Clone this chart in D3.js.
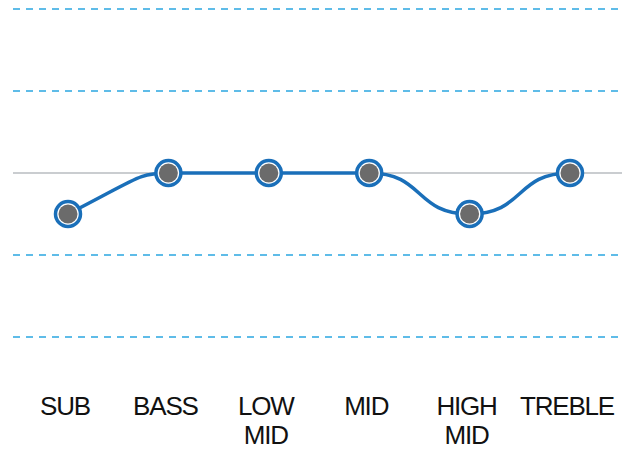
<!DOCTYPE html>
<html>
<head>
<meta charset="utf-8">
<script src="https://cdn.jsdelivr.net/npm/d3@7"></script>
<style>
	body { margin: 0; background: #fff; }
	svg { display: block; }
</style>
</head>
<body>
<svg id="svg"></svg>
<script>
	"use strict";

	var bands  = ["SUB", "BASS", "LOW MID", "MID", "HIGH MID", "TREBLE"],
		gains  = [-0.5, 0, 0, 0, -0.5, 0],
		grid   = [2, 1, -1, -2];

	var width  = 630,
		height = 450,
		blue   = "#1a6fb9";

	var svg = d3.select("#svg")
				.attr("width", width)
				.attr("height", height);

	var x = d3.scalePoint()
				.domain(bands)
				.range([68, 570]);

	var y = d3.scaleLinear()
				.domain([-2, 2])
				.range([337, 9]);

	// eq-style curve: flat shoulders at each band, straight run out of the first one
	var eqCurve = function(context){
		var pts = [];
		return {
			lineStart: function(){ pts = []; },
			lineEnd: function(){
				var n = pts.length, i, p0, p1, dx, s0, k0, k1;
				if (!n) return;
				context.moveTo(pts[0][0], pts[0][1]);
				for (i = 0; i < n - 1; i++){
					p0 = pts[i]; p1 = pts[i + 1];
					dx = p1[0] - p0[0];
					s0 = i === 0 ? 1.25 * (p1[1] - p0[1]) / dx : 0;
					k0 = i === 0 ? 0.7 : 0.55;
					k1 = i === 0 ? 0.3 : 0.55;
					context.bezierCurveTo(
						p0[0] + k0 * dx, p0[1] + s0 * k0 * dx,
						p1[0] - k1 * dx, p1[1],
						p1[0], p1[1]);
				}
			},
			areaStart: function(){},
			areaEnd: function(){},
			point: function(px, py){ pts.push([px, py]); }
		};
	};

	// dashed guides
	svg.selectAll("line.grid")
		.data(grid)
		.enter()
		.append("line")
		.attr("class", "grid")
		.attr("x1", 13)
		.attr("x2", 622)
		.attr("y1", function(d){ return y(d); })
		.attr("y2", function(d){ return y(d); })
		.style("stroke", "#2ba6e1")
		.style("stroke-width", 1.5)
		.style("stroke-dasharray", "7,6");

	// zero line
	svg.append("line")
		.attr("x1", 13)
		.attr("x2", 622)
		.attr("y1", y(0))
		.attr("y2", y(0))
		.style("stroke", "#b8bcc0")
		.style("stroke-width", 1.5);

	var data = bands.map(function(b, i){ return {band: b, gain: gains[i]}; });

	var line = d3.line()
				.x(function(d){ return x(d.band); })
				.y(function(d){ return y(d.gain); })
				.curve(eqCurve);

	svg.append("path")
		.datum(data)
		.attr("d", line)
		.style("fill", "none")
		.style("stroke", blue)
		.style("stroke-width", 3.5);

	var pt = svg.selectAll("g.pt")
				.data(data)
				.enter()
				.append("g")
				.attr("class", "pt")
				.attr("transform", function(d){ return "translate(" + x(d.band) + "," + y(d.gain) + ")"; });

	pt.append("circle")
		.attr("r", 12.5)
		.style("fill", "#fff")
		.style("stroke", blue)
		.style("stroke-width", 3.5);

	pt.append("circle")
		.attr("r", 9.5)
		.style("fill", "#6b6b6b");

	// band labels
	var label = svg.selectAll("text.band")
				.data(bands)
				.enter()
				.append("text")
				.attr("class", "band")
				.attr("x", function(d){ return x(d) - 3; })
				.attr("y", 415)
				.attr("text-anchor", "middle")
				.style("font-family", "'Liberation Sans', Arial, sans-serif")
				.style("font-size", "26px")
				.style("letter-spacing", "-1.2px")
				.style("fill", "#111");

	label.selectAll("tspan")
		.data(function(d){ return d.split(" "); })
		.enter()
		.append("tspan")
		.attr("x", function(){ return d3.select(this.parentNode).attr("x"); })
		.attr("dy", function(d, i){ return i ? 29 : 0; })
		.text(function(d){ return d; });
</script>
</body>
</html>
